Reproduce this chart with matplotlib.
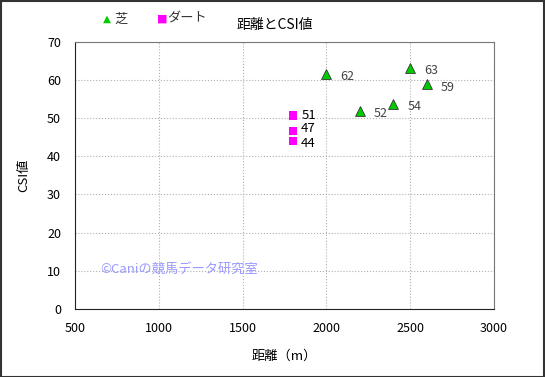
import matplotlib.pyplot as plt
from matplotlib.patches import Rectangle

plt.rcParams["font.family"] = ["Noto Sans CJK JP", "DejaVu Sans"]

# 芝 (turf)
turf_distance = [2000, 2200, 2400, 2500, 2600]
turf_csi = [61.6, 51.8, 53.7, 63.2, 58.8]
turf_labels = ["62", "52", "54", "63", "59"]

# ダート (dirt)
dirt_distance = [1800, 1800, 1800]
dirt_csi = [50.7, 46.6, 44.0]
dirt_labels = ["51", "47", "44"]

x_ticks = [500, 1000, 1500, 2000, 2500, 3000]
y_ticks = [0, 10, 20, 30, 40, 50, 60, 70]

W, H = 545, 377
fig = plt.figure(figsize=(W / 100, H / 100), dpi=100)
ax = fig.add_axes([75 / W, 1 - 309 / H, (494 - 75) / W, (309 - 41.7) / H])

ax.scatter(turf_distance, turf_csi, marker="^", s=50, c="#00cc00",
           edgecolors="#333333", linewidths=0.6, zorder=3)
ax.scatter(dirt_distance, dirt_csi, marker="s", s=36, c="#ff00ff",
           edgecolors="none", zorder=3)

for x, y, t in zip(turf_distance, turf_csi, turf_labels):
    ax.annotate(t, (x, y), xytext=(10, -2), textcoords="offset points",
                fontsize=9, color="#444444", va="center")
dirt_nudge = [0, 1.5, -1.5]
for x, y, t, dy in zip(dirt_distance, dirt_csi, dirt_labels, dirt_nudge):
    ax.annotate(t, (x, y), xytext=(6, dy), textcoords="offset points",
                fontsize=9.5, color="black", va="center")

ax.set_xlim(500, 3000)
ax.set_ylim(0, 70)
ax.set_xticks(x_ticks)
ax.set_yticks(y_ticks)
ax.tick_params(labelsize=9, length=0)
ax.tick_params(axis="x", pad=9)
ax.tick_params(axis="y", pad=10)
ax.grid(True, color="#b0b0b0", linestyle=":", linewidth=0.8)
for side in ["right", "top"]:
    ax.spines[side].set_color("#777777")
ax.spines["left"].set_color("#222222")
ax.spines["bottom"].set_color("#222222")

ax.set_xlabel("距離（m）", fontsize=9.5, labelpad=11)
ax.set_ylabel("CSI値", fontsize=9.5, labelpad=12)

ax.text(650, 10.4, "©Caniの競馬データ研究室", fontsize=9.5, color="#9999ff",
        va="center")

fig.text(275 / W, 1 - 25 / H, "距離とCSI値", fontsize=10, ha="center",
         va="center")
# legend row
fig.text(103 / W, 1 - 19 / H, "▲", fontsize=7.5, color="#00cc00",
         va="center", family=["DejaVu Sans"])
fig.text(114 / W, 1 - 19 / H, "芝", fontsize=9.5, color="#333333",
         va="center")
fig.text(157 / W, 1 - 19 / H, "■", fontsize=8, color="#ff00ff",
         va="center", family=["DejaVu Sans"])
fig.text(167 / W, 1 - 19 / H, "ダート", fontsize=9.5, color="#333333",
         va="center")

fig.patches.append(Rectangle((0.5 / W, 0.5 / H), 1 - 1.5 / W, 1 - 1.5 / H,
                             transform=fig.transFigure, fill=False,
                             edgecolor="#333333", linewidth=1.5))

fig.savefig("out.png", dpi=100)
